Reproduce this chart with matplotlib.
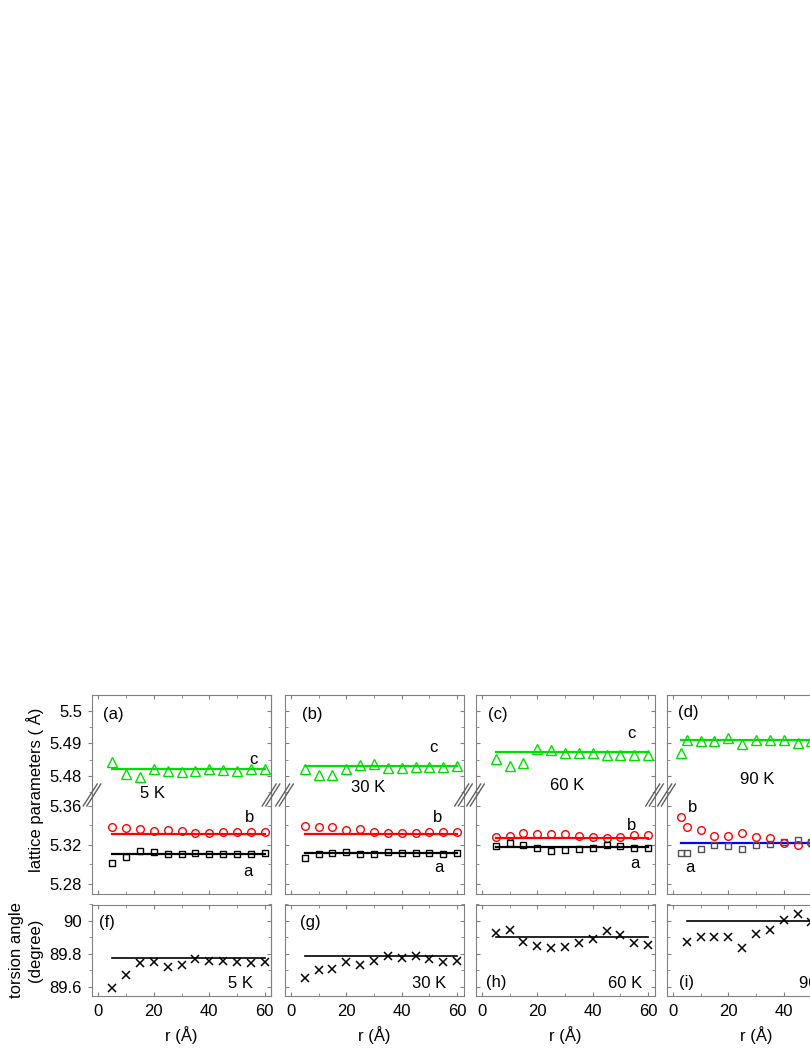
import matplotlib.pyplot as plt
from matplotlib.lines import Line2D
from matplotlib.ticker import MultipleLocator, FuncFormatter

plt.rcParams['font.family'] = ['Liberation Sans', 'DejaVu Sans']
plt.rcParams['font.size'] = 12

# canvas size in pixels (dpi 100)
W, H = 810, 1048

# r grids (Å)
r = [5, 10, 15, 20, 25, 30, 35, 40, 45, 50, 55, 60]
r_90 = [3, 5, 10, 15, 20, 25, 30, 35, 40, 45, 50]
r_t90 = [5, 10, 15, 20, 25, 30, 35, 40, 45, 50]

temps = ['5 K', '30 K', '60 K', '90 K']
tags_lat = ['(a)', '(b)', '(c)', '(d)']
tags_tor = ['(f)', '(g)', '(h)', '(i)']

# lattice parameter c (Å)
c_5K = [5.4843, 5.4807, 5.4797, 5.4820, 5.4815, 5.4812, 5.4815, 5.4820, 5.4818, 5.4815, 5.4823, 5.4820]
c_30K = [5.4823, 5.4804, 5.4804, 5.4823, 5.4833, 5.4838, 5.4826, 5.4825, 5.4828, 5.4828, 5.4828, 5.4830]
c_60K = [5.4852, 5.4831, 5.4840, 5.4883, 5.4879, 5.4872, 5.4872, 5.4872, 5.4866, 5.4866, 5.4866, 5.4866]
c_90K = [5.4871, 5.4912, 5.4907, 5.4907, 5.4916, 5.4898, 5.4910, 5.4912, 5.4910, 5.4902, 5.4908]

# lattice parameter b (Å)
b_5K = [5.3386, 5.3370, 5.3363, 5.3346, 5.3353, 5.3346, 5.3325, 5.3325, 5.3329, 5.3329, 5.3332, 5.3329]
b_30K = [5.3393, 5.3380, 5.3386, 5.3353, 5.3359, 5.3336, 5.3319, 5.3325, 5.3325, 5.3329, 5.3336, 5.3336]
b_60K = [5.3282, 5.3297, 5.3320, 5.3313, 5.3311, 5.3311, 5.3295, 5.3282, 5.3274, 5.3277, 5.3298, 5.3306]
b_90K = [5.3490, 5.3388, 5.3354, 5.3292, 5.3292, 5.3326, 5.3279, 5.3269, 5.3224, 5.3200, 5.3217]

# lattice parameter a (Å)
a_5K = [5.3020, 5.3081, 5.3139, 5.3129, 5.3105, 5.3112, 5.3122, 5.3112, 5.3112, 5.3112, 5.3112, 5.3115]
a_30K = [5.3071, 5.3105, 5.3115, 5.3125, 5.3105, 5.3112, 5.3125, 5.3122, 5.3122, 5.3119, 5.3112, 5.3115]
a_60K = [5.3193, 5.3217, 5.3200, 5.3166, 5.3142, 5.3149, 5.3156, 5.3173, 5.3200, 5.3190, 5.3166, 5.3166]
a_90K = [5.3115, 5.3115, 5.3159, 5.3200, 5.3193, 5.3159, 5.3200, 5.3207, 5.3231, 5.3251, 5.3235]

# torsion angle (degree)
t_5K = [89.594, 89.674, 89.744, 89.754, 89.718, 89.730, 89.768, 89.760, 89.758, 89.750, 89.748, 89.754]
t_30K = [89.652, 89.700, 89.706, 89.752, 89.730, 89.760, 89.790, 89.778, 89.788, 89.770, 89.754, 89.758]
t_60K = [89.930, 89.945, 89.870, 89.846, 89.838, 89.842, 89.864, 89.890, 89.938, 89.914, 89.864, 89.856]
t_90K = [89.875, 89.905, 89.905, 89.905, 89.835, 89.920, 89.945, 90.005, 90.045, 89.995]

# average (fit) values drawn as horizontal lines
fit_c = [5.4822, 5.4830, 5.4874, 5.4910]
fit_b = [5.3317, 5.3312, 5.3273, None]
fit_a = [5.3112, 5.3119, 5.3180, 5.3224]
fit_t = [89.778, 89.785, 89.903, 90.0]

GREEN = '#00e000'
RED = '#ff0000'
BLUE = '#0000ff'
FRAME = '#808080'

fig = plt.figure(figsize=(W / 100, H / 100), dpi=100)


def px_axes(x0, y0, x1, y1):
    return fig.add_axes([x0 / W, 1 - y1 / H, (x1 - x0) / W, (y1 - y0) / H])


def px_text(x, y, s, **kw):
    fig.text(x / W, 1 - y / H, s, ha=kw.pop('ha', 'center'), va='center', fontsize=12, **kw)


gfmt = FuncFormatter(lambda v, pos: f'{v:g}')


def style(ax, first, ymaj, ymin):
    for s in ax.spines.values():
        s.set_color(FRAME)
    ax.set_xlim(-2.3, 62.3)
    ax.xaxis.set_major_locator(MultipleLocator(20))
    ax.xaxis.set_minor_locator(MultipleLocator(10))
    ax.yaxis.set_major_locator(MultipleLocator(ymaj))
    ax.yaxis.set_minor_locator(MultipleLocator(ymin))
    ax.yaxis.set_major_formatter(gfmt)
    ax.tick_params(which='both', direction='in', top=True, right=True,
                   color=FRAME, labelsize=12, pad=4,
                   labelbottom=False, labelleft=False)
    ax.tick_params(which='major', length=3.2)
    ax.tick_params(which='minor', length=2)
    if first:
        # labelled left axis: ticks point out, right side stays inward
        ax.tick_params(axis='y', which='both', direction='out', right=False, labelleft=True)
        sec = ax.secondary_yaxis('right')
        sec.yaxis.set_major_locator(MultipleLocator(ymaj))
        sec.yaxis.set_minor_locator(MultipleLocator(ymin))
        sec.tick_params(which='both', direction='in', color=FRAME, labelright=False)
        sec.tick_params(which='major', length=3.2)
        sec.tick_params(which='minor', length=2)
        sec.spines['right'].set_color(FRAME)


def break_marks(x, y):
    for dx in (-1.8, 1.8):
        fig.add_artist(Line2D([(x + dx - 7) / W, (x + dx + 7) / W],
                              [1 - (y + 11) / H, 1 - (y - 11) / H],
                              color='#606060', lw=1))


c_all = [c_5K, c_30K, c_60K, c_90K]
b_all = [b_5K, b_30K, b_60K, b_90K]
a_all = [a_5K, a_30K, a_60K, a_90K]
t_all = [t_5K, t_30K, t_60K, t_90K]

lefts = [92, 284.5, 475.5, 666.5]
PW = 179
Y_TOP, Y_BRK, Y_BOT = 695, 795, 894
T_TOP, T_BOT = 904.5, 996

mk = dict(mfc='none', mew=1.0, ls='none')

for i in range(4):
    L = lefts[i]
    rr = r_90 if i == 3 else r
    r0 = rr[0]
    ax_up = px_axes(L, Y_TOP, L + PW, Y_BRK)
    ax_lo = px_axes(L, Y_BRK, L + PW, Y_BOT)
    ax_t = px_axes(L, T_TOP, L + PW, T_BOT)

    # upper part of the broken axis: c
    ax_up.plot([r0, 60], [fit_c[i]] * 2, color=GREEN, lw=1.6)
    ax_up.plot(rr, c_all[i], marker='^', ms=6.5, mec=GREEN, **mk)
    ax_up.set_ylim(5.47415, 5.50492)
    style(ax_up, i == 0, 0.01, 0.005)
    ax_up.spines['bottom'].set_visible(False)
    ax_up.tick_params(axis='x', which='both', bottom=False)

    # lower part: a and b
    if fit_b[i] is not None:
        ax_lo.plot([r0, 60], [fit_b[i]] * 2, color=RED, lw=1.6)
    ax_lo.plot([r0, 60], [fit_a[i]] * 2, color=BLUE if i == 3 else 'black', lw=1.6)
    ax_lo.plot(rr, b_all[i], marker='o', ms=5.5, mec=RED, **mk)
    ax_lo.plot(rr, a_all[i], marker='s', ms=5, mec='#505050' if i == 3 else 'black', **mk)
    ax_lo.set_ylim(5.26974, 5.37128)
    style(ax_lo, i == 0, 0.04, 0.02)
    ax_lo.spines['top'].set_visible(False)
    ax_lo.tick_params(axis='x', which='both', top=False)

    break_marks(L, Y_BRK)
    break_marks(L + PW, Y_BRK)

    # torsion angle
    rt = r_t90 if i == 3 else r
    ax_t.plot([5, 60], [fit_t[i]] * 2, color='black', lw=1.2)
    ax_t.plot(rt, t_all[i], marker='x', ms=6, color='black', mew=1.1, ls='none')
    ax_t.set_ylim(89.545, 90.1)
    style(ax_t, i == 0, 0.2, 0.1)
    ax_t.tick_params(axis='x', labelbottom=True, pad=6)
    ax_t.set_xlabel('r (Å)', fontsize=12, labelpad=5)

# panel annotations (pixel centres in the reference)
lat_labels = [
    ('(a)', 113, 714), ('c', 253, 759), ('5 K', 152, 793), ('b', 250, 817), ('a', 248, 872),
    ('(b)', 312, 715), ('c', 433, 747), ('30 K', 368, 787), ('b', 438, 817), ('a', 439, 868),
    ('(c)', 498, 714), ('c', 631, 733), ('60 K', 567, 786), ('b', 632, 825), ('a', 635, 863),
    ('(d)', 688, 713), ('90 K', 757, 780), ('b', 693, 808), ('a', 690, 867),
]
for s, x, y in lat_labels:
    px_text(x, y, s)

tor_labels = [
    ('(f)', 107, 922), ('5 K', 240, 983),
    ('(g)', 310, 922), ('30 K', 429, 983),
    ('(h)', 496, 982), ('60 K', 625, 983),
    ('(i)', 687, 982),
]
for s, x, y in tor_labels:
    px_text(x, y, s)
px_text(799, 983, '90 K', ha='left')

px_text(35, 790, 'lattice parameters ( Å)', rotation=90)
fig.text(26 / W, 1 - 950 / H, 'torsion angle\n(degree)', rotation=90, ha='center',
         va='center', fontsize=12, multialignment='center', linespacing=1.3)

fig.savefig('out.png', dpi=100)
